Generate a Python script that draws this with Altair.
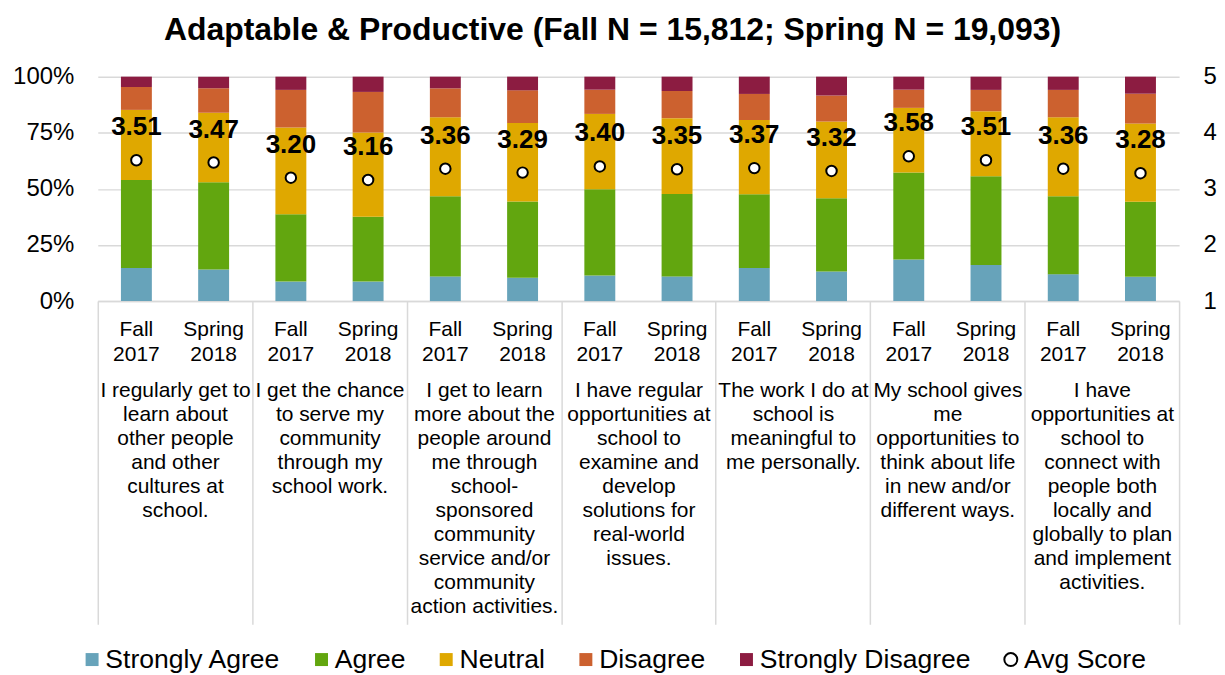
import altair as alt
import pandas as pd

FONT = "Liberation Sans"

groups = [
    "I regularly get to|learn about|other people|and other|cultures at|school.",
    "I get the chance|to serve my|community|through my|school work.",
    "I get to learn|more about the|people around|me through|school-|sponsored|community|service and/or|community|action activities.",
    "I have regular|opportunities at|school to|examine and|develop|solutions for|real-world|issues.",
    "The work I do at|school is|meaningful to|me personally.",
    "My school gives|me|opportunities to|think about life|in new and/or|different ways.",
    "I have|opportunities at|school to|connect with|people both|locally and|globally to plan|and implement|activities.",
]
terms = ["Fall 2017", "Spring 2018"]
responses = ["Strongly Agree", "Agree", "Neutral", "Disagree", "Strongly Disagree"]
colors = ["#67A3BA", "#62A60F", "#DFA800", "#CC612F", "#8C1C41"]

# percentages per bar (Fall, Spring for each statement)
strongly_agree = [14.8, 14.1, 8.7, 8.7, 11.0, 10.4, 11.4, 11.0, 14.8, 13.2, 18.5, 16.1, 12.0, 10.8]
agree = [39.1, 38.8, 30.0, 28.9, 35.7, 34.0, 38.4, 36.7, 32.8, 32.6, 38.8, 39.5, 34.7, 33.5]
neutral = [31.3, 31.0, 38.6, 37.5, 35.2, 35.0, 33.6, 33.8, 33.1, 34.2, 28.8, 29.0, 35.2, 34.8]
disagree = [10.2, 10.9, 16.8, 18.1, 12.9, 14.5, 10.8, 12.1, 11.6, 11.6, 8.1, 9.5, 12.2, 13.3]
strongly_disagree = [4.6, 5.2, 5.9, 6.8, 5.2, 6.1, 5.8, 6.4, 7.7, 8.4, 5.8, 5.9, 5.9, 7.6]
avg_score = [3.51, 3.47, 3.20, 3.16, 3.36, 3.29, 3.40, 3.35, 3.37, 3.32, 3.58, 3.51, 3.36, 3.28]

series = [strongly_agree, agree, neutral, disagree, strongly_disagree]
rows = []
for i in range(len(avg_score)):
    for k, r in enumerate(responses):
        rows.append({"group": groups[i // 2], "term": terms[i % 2], "response": r,
                     "order": k, "pct": series[k][i]})
bars_df = pd.DataFrame(rows)

avg_df = pd.DataFrame({
    "group": [groups[i // 2] for i in range(len(avg_score))],
    "term": [terms[i % 2] for i in range(len(avg_score))],
    "avg": avg_score,
})
avg_df["label"] = avg_df["avg"].map(lambda v: f"{v:.2f}")

GRID = "#d9d9d9"

x = alt.X(
    "group:N", sort=groups,
    scale=alt.Scale(paddingInner=0, paddingOuter=0),
    axis=alt.Axis(
        title=None, labelExpr="split(datum.label, '|')", labelFontSize=21,
        labelLineHeight=24, labelBaseline="top", labelPadding=-245, labelAngle=0,
        labelLimit=400, labelOverlap=False, tickBand="extent", tickSize=324,
        tickColor=GRID, tickWidth=1.5, domainColor=GRID, domainWidth=1.5,
        grid=False, labelColor="black", labelFont=FONT,
    ),
)
xoff = alt.XOffset("term:N", sort=terms, scale=alt.Scale(paddingInner=0, paddingOuter=0))

bars = alt.Chart(bars_df).mark_bar(width=31).encode(
    x=x, xOffset=xoff,
    y=alt.Y("pct:Q", stack="normalize", scale=alt.Scale(domain=[0, 1]),
            axis=alt.Axis(values=[0, 0.25, 0.5, 0.75, 1], format=".0%", title=None,
                          labelFontSize=24, grid=True, gridColor=GRID, gridWidth=1.5,
                          domain=False, ticks=False, labelPadding=24, labelColor="black",
                          labelFont=FONT)),
    color=alt.Color(
        "response:N",
        scale=alt.Scale(domain=responses + ["Avg Score"], range=colors + ["white"]),
        legend=alt.Legend(
            title=None, orient="none", legendX=-19, legendY=571,
            direction="horizontal", labelFontSize=26.6,
            labelFont=FONT, labelColor="black", labelLimit=400, labelOffset=0,
            symbolType={"expr": "datum.value == 'Avg Score' ? 'circle' : 'square'"},
            symbolSize=169, symbolStrokeColor="black",
            symbolStrokeWidth={"expr": "datum.value == 'Avg Score' ? 2 : 0"},
            columnPadding=27, symbolOpacity=1,
        ),
    ),
    order=alt.Order("order:Q", sort="ascending"),
)

yavg = alt.Y("avg:Q", scale=alt.Scale(domain=[1, 5]),
             axis=alt.Axis(orient="right", values=[1, 2, 3, 4, 5], title=None,
                           labelFontSize=24, grid=False, domain=False, ticks=False,
                           labelPadding=24, labelColor="black", labelFont=FONT))

pts = alt.Chart(avg_df).mark_point(filled=True, fill="white", stroke="black",
                                   strokeWidth=2, size=110, opacity=1).encode(
    x=x, xOffset=xoff, y=yavg)

lbls = alt.Chart(avg_df).mark_text(fontSize=26, fontWeight="bold", font=FONT,
                                   color="black", dy=-33, baseline="middle").encode(
    x=x, xOffset=xoff,
    y=alt.Y("avg:Q", scale=alt.Scale(domain=[1, 5]), axis=None),
    text="label:N")

terms_txt = alt.Chart(avg_df).mark_text(fontSize=21, font=FONT, color="black",
                                        lineBreak=" ", lineHeight=25,
                                        baseline="top").encode(
    x=x, xOffset=xoff, y=alt.value(243), text="term:N")

chart = alt.layer(bars, pts, lbls, terms_txt).resolve_scale(y="independent").properties(
    width=1084, height=225,
    title=alt.TitleParams("Adaptable & Productive (Fall N = 15,812; Spring N = 19,093)",
                          fontSize=32, fontWeight="bold", font=FONT, color="black",
                          anchor="middle", offset=18, dx=-26),
    padding={"left": 4, "right": 0, "top": 5, "bottom": 0},
).configure_view(stroke=None)

chart.save("out.html", embed_options={"renderer": "svg", "actions": False})
